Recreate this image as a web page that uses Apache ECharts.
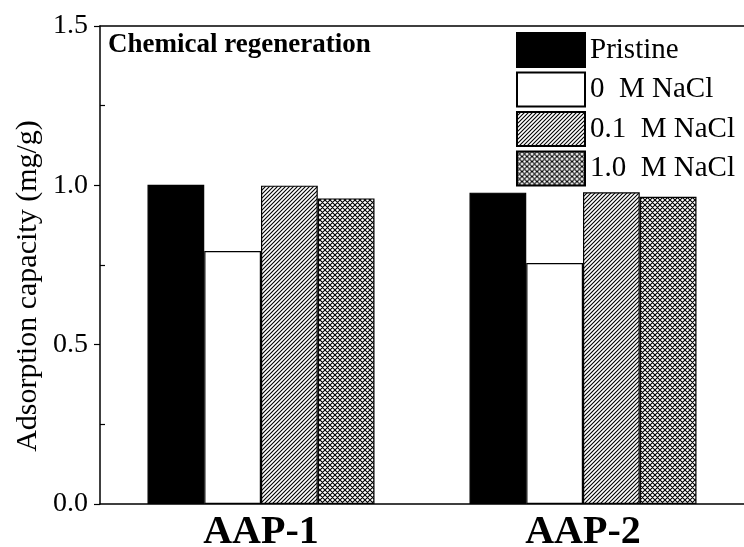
<!DOCTYPE html>
<html>
<head>
<meta charset="utf-8">
<script src="https://cdn.jsdelivr.net/npm/echarts@6/dist/echarts.min.js"></script>
<style>html,body{margin:0;padding:0;background:#fff;}#chart{width:744px;height:547px;}</style>
</head>
<body>
<div id="chart"></div>
<script>
const categories = ['AAP-1', 'AAP-2'];
const seriesNames = ['Pristine', '0  M NaCl', '0.1  M NaCl', '1.0  M NaCl'];
const pristine = [1.002, 0.977];
const naCl0 = [0.794, 0.756];
const naCl01 = [0.999, 0.978];
const naCl10 = [0.959, 0.964];
const yTicks = [0, 0.5, 1.0, 1.5];

function diagPattern() {
  const s = 4;
  const c = document.createElement('canvas');
  c.width = s; c.height = s;
  const g = c.getContext('2d');
  g.fillStyle = '#fff'; g.fillRect(0, 0, s, s);
  g.strokeStyle = '#000'; g.lineWidth = 1.1;
  g.beginPath();
  g.moveTo(-1, s + 1); g.lineTo(s + 1, -1);
  g.moveTo(-1, 1); g.lineTo(1, -1);
  g.moveTo(s - 1, s + 1); g.lineTo(s + 1, s - 1);
  g.stroke();
  return c;
}
function crossPattern() {
  const s = 5;
  const c = document.createElement('canvas');
  c.width = s; c.height = s;
  const g = c.getContext('2d');
  g.fillStyle = '#fff'; g.fillRect(0, 0, s, s);
  g.strokeStyle = '#000'; g.lineWidth = 1.1;
  g.beginPath();
  g.moveTo(-1, s + 1); g.lineTo(s + 1, -1);
  g.moveTo(-1, 1); g.lineTo(1, -1);
  g.moveTo(s - 1, s + 1); g.lineTo(s + 1, s - 1);
  g.moveTo(-1, -1); g.lineTo(s + 1, s + 1);
  g.moveTo(-1, s - 1); g.lineTo(1, s + 1);
  g.moveTo(s - 1, -1); g.lineTo(s + 1, 1);
  g.stroke();
  return c;
}

const serif = '"Liberation Serif", "Times New Roman", serif';
const fills = ['#000', '#fff', { image: diagPattern(), repeat: 'repeat' }, { image: crossPattern(), repeat: 'repeat' }];
const dataSets = [pristine, naCl0, naCl01, naCl10];

const chart = echarts.init(document.getElementById('chart'), null, { renderer: 'canvas' });
chart.setOption({
  animation: false,
  backgroundColor: '#fff',
  title: {
    text: 'Chemical regeneration',
    left: 103, top: 27,
    textStyle: { fontFamily: serif, fontWeight: 'bold', fontSize: 27, color: '#000' }
  },
  legend: {
    orient: 'vertical', left: 511, top: 27,
    icon: 'rect',
    itemWidth: 68, itemHeight: 34, itemGap: 3.5,
    textStyle: { fontFamily: serif, fontSize: 29, color: '#000' },
    data: seriesNames
  },
  grid: { left: 100, right: 0, top: 26, bottom: 43, containLabel: false, outerBoundsMode: 'none' },
  xAxis: [{
    type: 'category', data: categories,
    axisLine: { lineStyle: { color: '#000', width: 1.5 } },
    axisTick: { show: false },
    axisLabel: { fontFamily: serif, fontWeight: 'bold', fontSize: 40, color: '#000', margin: 9 }
  }, {
    type: 'category', data: categories, position: 'top',
    axisLine: { lineStyle: { color: '#000', width: 1.5 } },
    axisTick: { show: false }, axisLabel: { show: false }
  }],
  yAxis: [{
    type: 'value', min: 0, max: 1.5, interval: 0.5,
    axisLine: { show: true, lineStyle: { color: '#000', width: 1.5 } },
    axisTick: { show: true, length: 6, lineStyle: { color: '#000', width: 1.2 } },
    minorTick: { show: true, splitNumber: 2, length: -5, lineStyle: { color: '#000', width: 1.2 } },
    splitLine: { show: false },
    axisLabel: {
      fontFamily: serif, fontSize: 28, color: '#000', margin: 12,
      formatter: v => yTicks.includes(v) ? v.toFixed(1) : ''
    }
  }],
  graphic: [{
    type: 'text', x: 28, y: 286, rotation: Math.PI / 2,
    style: {
      text: 'Adsorption capacity (mg/g)', fontFamily: serif, fontSize: 30,
      fill: '#000', textAlign: 'center', textVerticalAlign: 'middle'
    }
  }],
  series: seriesNames.map((name, i) => ({
    name, type: 'bar', data: dataSets[i],
    barGap: '0%', barCategoryGap: '29.5%',
    itemStyle: { color: fills[i], borderColor: '#000', borderWidth: 1.2 }
  }))
});
</script>
</body>
</html>
